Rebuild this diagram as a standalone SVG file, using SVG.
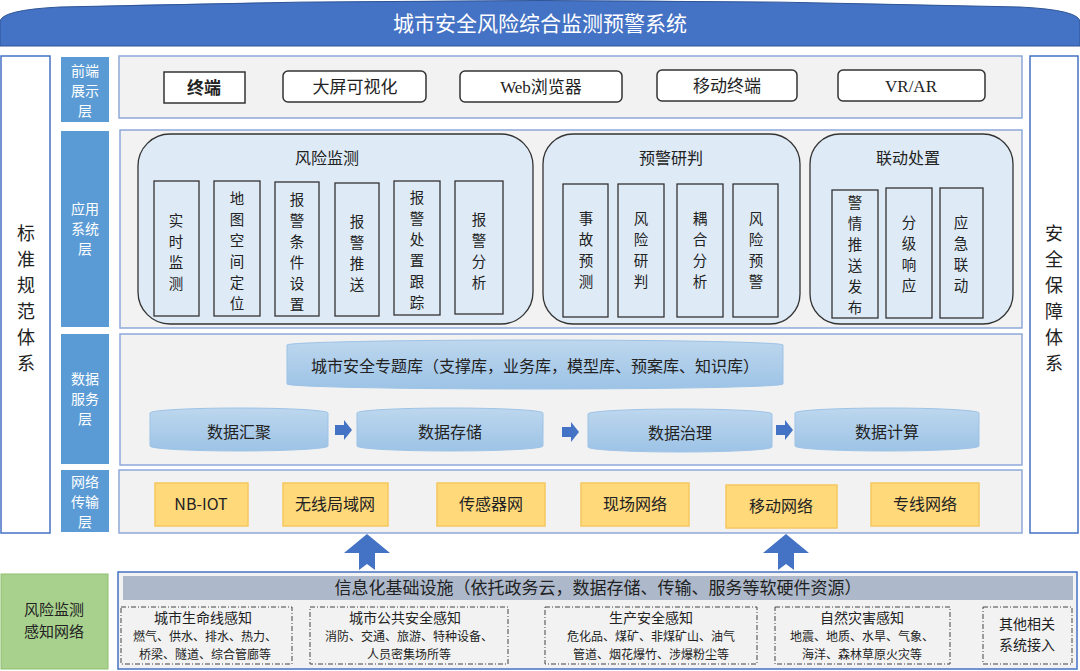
<svg xmlns="http://www.w3.org/2000/svg" width="1080" height="671" viewBox="0 0 1080 671">
<style>
text{font-family:"Noto Sans CJK SC","Liberation Sans",sans-serif;fill:#222}
.lbl{fill:#5B9BD5}
.lt{fill:#fff;font-size:14px;text-anchor:middle}
.pan{fill:#F2F2F2;stroke:#8EA9DB;stroke-width:1.5}
.fb{fill:#fff;stroke:#333;stroke-width:1.5}
.ft{font-size:17px;text-anchor:middle}
.grp{fill:#DEEBF7;stroke:#333;stroke-width:1.3}
.it{fill:#DEEBF7;stroke:#333;stroke-width:1.3}
.vt{font-size:14.5px;text-anchor:middle}
.cyl{fill:url(#cg);stroke:#9DC3E6}
.ct{font-size:16px;text-anchor:middle}
.nb{fill:#FFD97A;stroke:#F6C85F;stroke-width:1.5}
.nt{font-size:16px;text-anchor:middle}
.db{fill:none;stroke:#444;stroke-dasharray:5 2 1 2}
.dt{font-size:14px;text-anchor:middle}
.ds{font-size:12px;text-anchor:middle}
.big{font-size:18px;text-anchor:middle}
</style>
<defs>
<linearGradient id="cg" x1="0" y1="0" x2="0" y2="1"><stop offset="0" stop-color="#BDD7EE"/><stop offset="1" stop-color="#9DC3E6"/></linearGradient>
</defs>
<g id="title"><path d="M0,46 L0,22 Q0,10 60,7 Q540,-6 1020,7 Q1080,10 1080,22 L1080,46 Z" fill="#4472C4" stroke="#2F5597"/><text x="540" y="31" style="font-size:21px;fill:#fff;text-anchor:middle">城市安全风险综合监测预警系统</text></g>
<g id="left"><rect x="1" y="56" width="49" height="477" fill="#fff" stroke="#4472C4" stroke-width="1.5"/><text class="big"><tspan x="26" y="240">标</tspan><tspan x="26" y="266">准</tspan><tspan x="26" y="292">规</tspan><tspan x="26" y="318">范</tspan><tspan x="26" y="344">体</tspan><tspan x="26" y="370">系</tspan></text></g>
<g id="right"><rect x="1030" y="56" width="48" height="477" fill="#fff" stroke="#4472C4" stroke-width="1.5"/><text class="big"><tspan x="1054" y="240">安</tspan><tspan x="1054" y="266">全</tspan><tspan x="1054" y="292">保</tspan><tspan x="1054" y="318">障</tspan><tspan x="1054" y="344">体</tspan><tspan x="1054" y="370">系</tspan></text></g>
<g id="labels">
<rect class="lbl" x="61" y="57" width="48" height="65"/><text class="lt"><tspan x="85" y="76">前端</tspan><tspan x="85" y="96">展示</tspan><tspan x="85" y="116">层</tspan></text>
<rect class="lbl" x="61" y="131" width="48" height="196"/><text class="lt"><tspan x="85" y="214">应用</tspan><tspan x="85" y="234">系统</tspan><tspan x="85" y="254">层</tspan></text>
<rect class="lbl" x="61" y="334" width="48" height="130"/><text class="lt"><tspan x="85" y="384">数据</tspan><tspan x="85" y="404">服务</tspan><tspan x="85" y="424">层</tspan></text>
<rect class="lbl" x="61" y="470" width="48" height="62"/><text class="lt"><tspan x="85" y="487">网络</tspan><tspan x="85" y="507">传输</tspan><tspan x="85" y="527">层</tspan></text>
</g>
<g id="front">
<rect class="pan" x="119" y="56" width="903" height="62"/>
<rect class="fb" x="164" y="72" width="81" height="31"/><text class="ft" x="204" y="94" style="font-weight:bold">终端</text>
<rect class="fb" x="283" y="71" width="143" height="31" rx="5"/><text class="ft" x="355" y="93">大屏可视化</text>
<rect class="fb" x="460" y="71" width="162" height="31" rx="5"/><text class="ft" x="541" y="93" style="font-family:'Liberation Serif','Noto Sans CJK SC',serif">Web浏览器</text>
<rect class="fb" x="657" y="70" width="140" height="31" rx="5"/><text class="ft" x="727" y="92">移动终端</text>
<rect class="fb" x="838" y="70" width="147" height="31" rx="5"/><text class="ft" x="911" y="92" style="font-family:'Liberation Serif',serif">VR/AR</text>
</g>
<g id="app">
<rect class="pan" x="120" y="130" width="902" height="198"/>
<rect class="grp" x="138" y="134" width="395" height="190" rx="32"/><text class="ft" x="327" y="164" style="font-size:16px">风险监测</text>
<rect class="it" x="154" y="181" width="45" height="135"/><text class="vt"><tspan x="176" y="226">实</tspan><tspan x="176" y="247">时</tspan><tspan x="176" y="268">监</tspan><tspan x="176" y="289">测</tspan></text>
<rect class="it" x="214" y="181" width="46" height="135"/><text class="vt"><tspan x="237" y="204">地</tspan><tspan x="237" y="225">图</tspan><tspan x="237" y="246">空</tspan><tspan x="237" y="267">间</tspan><tspan x="237" y="288">定</tspan><tspan x="237" y="309">位</tspan></text>
<rect class="it" x="275" y="182" width="44" height="134"/><text class="vt"><tspan x="297" y="205">报</tspan><tspan x="297" y="226">警</tspan><tspan x="297" y="247">条</tspan><tspan x="297" y="268">件</tspan><tspan x="297" y="289">设</tspan><tspan x="297" y="310">置</tspan></text>
<rect class="it" x="335" y="183" width="44" height="133"/><text class="vt"><tspan x="357" y="227">报</tspan><tspan x="357" y="248">警</tspan><tspan x="357" y="269">推</tspan><tspan x="357" y="290">送</tspan></text>
<rect class="it" x="394" y="181" width="46" height="134"/><text class="vt"><tspan x="417" y="203">报</tspan><tspan x="417" y="224">警</tspan><tspan x="417" y="245">处</tspan><tspan x="417" y="266">置</tspan><tspan x="417" y="287">跟</tspan><tspan x="417" y="308">踪</tspan></text>
<rect class="it" x="455" y="181" width="48" height="133"/><text class="vt"><tspan x="479" y="225">报</tspan><tspan x="479" y="246">警</tspan><tspan x="479" y="267">分</tspan><tspan x="479" y="288">析</tspan></text>
<rect class="grp" x="543" y="134" width="257" height="190" rx="30"/><text class="ft" x="671" y="164" style="font-size:16px">预警研判</text>
<rect class="it" x="563" y="184" width="45" height="133"/><text class="vt"><tspan x="586" y="224">事</tspan><tspan x="586" y="245">故</tspan><tspan x="586" y="266">预</tspan><tspan x="586" y="287">测</tspan></text>
<rect class="it" x="618" y="184" width="46" height="133"/><text class="vt"><tspan x="641" y="224">风</tspan><tspan x="641" y="245">险</tspan><tspan x="641" y="266">研</tspan><tspan x="641" y="287">判</tspan></text>
<rect class="it" x="677" y="184" width="46" height="133"/><text class="vt"><tspan x="700" y="224">耦</tspan><tspan x="700" y="245">合</tspan><tspan x="700" y="266">分</tspan><tspan x="700" y="287">析</tspan></text>
<rect class="it" x="733" y="184" width="45" height="133"/><text class="vt"><tspan x="756" y="224">风</tspan><tspan x="756" y="245">险</tspan><tspan x="756" y="266">预</tspan><tspan x="756" y="287">警</tspan></text>
<rect class="grp" x="810" y="134" width="203" height="190" rx="30"/><text class="ft" x="908" y="164" style="font-size:16px">联动处置</text>
<rect class="it" x="832" y="190" width="46" height="128"/><text class="vt"><tspan x="855" y="208">警</tspan><tspan x="855" y="229">情</tspan><tspan x="855" y="250">推</tspan><tspan x="855" y="271">送</tspan><tspan x="855" y="292">发</tspan><tspan x="855" y="313">布</tspan></text>
<rect class="it" x="886" y="188" width="46" height="130"/><text class="vt"><tspan x="909" y="228">分</tspan><tspan x="909" y="249">级</tspan><tspan x="909" y="270">响</tspan><tspan x="909" y="291">应</tspan></text>
<rect class="it" x="940" y="188" width="43" height="130"/><text class="vt"><tspan x="961" y="228">应</tspan><tspan x="961" y="249">急</tspan><tspan x="961" y="270">联</tspan><tspan x="961" y="291">动</tspan></text>
</g>
<g id="data">
<rect class="pan" x="120" y="334" width="902" height="131"/>
<path class="cyl" d="M287,345 A248,5 0 0 1 783,345 L783,384 A248,5 0 0 1 287,384 Z"/><text class="ct" x="535" y="372">城市安全专题库（支撑库，业务库，模型库、预案库、知识库）</text>
<path class="cyl" d="M150,413 A89,5 0 0 1 328,413 L328,446 A89,5 0 0 1 150,446 Z"/><text class="ct" x="239" y="438">数据汇聚</text>
<path class="cyl" d="M357,413 A93,5 0 0 1 543,413 L543,446 A93,5 0 0 1 357,446 Z"/><text class="ct" x="450" y="438">数据存储</text>
<path class="cyl" d="M588,414 A92,5 0 0 1 772,414 L772,447 A92,5 0 0 1 588,447 Z"/><text class="ct" x="680" y="439">数据治理</text>
<path class="cyl" d="M795,413 A92,5 0 0 1 979,413 L979,446 A92,5 0 0 1 795,446 Z"/><text class="ct" x="887" y="438">数据计算</text>
</g>
<g id="connectors" fill="#4472C4">
<polygon points="335,425 344,425 344,420 352,430 344,440 344,435 335,435"/>
<polygon points="562,427 571,427 571,422 579,432 571,442 571,437 562,437"/>
<polygon points="776,425 785,425 785,420 793,430 785,440 785,435 776,435"/>
<polygon points="367,534 390,553 375,553 375,570 367,564 359,570 359,553 344,553"/>
<polygon points="786,534 809,553 794,553 794,570 786,564 778,570 778,553 763,553"/>
</g>
<g id="net">
<rect class="pan" x="119" y="470" width="903" height="63"/>
<rect class="nb" x="155" y="483" width="93" height="43"/><text class="nt" x="201" y="510">NB-IOT</text>
<rect class="nb" x="283" y="483" width="105" height="43"/><text class="nt" x="335" y="510">无线局域网</text>
<rect class="nb" x="437" y="483" width="108" height="43"/><text class="nt" x="491" y="510">传感器网</text>
<rect class="nb" x="581" y="483" width="108" height="43"/><text class="nt" x="635" y="510">现场网络</text>
<rect class="nb" x="726" y="485" width="111" height="43"/><text class="nt" x="781" y="512">移动网络</text>
<rect class="nb" x="871" y="483" width="108" height="43"/><text class="nt" x="925" y="510">专线网络</text>
</g>
<g id="sense">
<rect x="1" y="574" width="107" height="95" fill="#A9D18E" stroke="#8FBF6E"/><text class="nt" style="font-size:15px"><tspan x="54" y="615">风险监测</tspan><tspan x="54" y="637">感知网络</tspan></text>
<rect x="118" y="572" width="959" height="97" fill="#F2F2F2" stroke="#4472C4" stroke-width="1.5"/>
<rect x="123" y="576" width="950" height="24" fill="#ADB9CA"/><text x="598" y="594" style="font-size:17px;text-anchor:middle">信息化基础设施（依托政务云，数据存储、传输、服务等软硬件资源）</text>
<rect class="db" x="121" y="607" width="171" height="57"/><text class="dt" x="203" y="623">城市生命线感知</text><text class="ds"><tspan x="205" y="641">燃气、供水、排水、热力、</tspan><tspan x="205" y="659">桥梁、隧道、综合管廊等</tspan></text>
<rect class="db" x="310" y="607" width="198" height="57"/><text class="dt" x="405" y="623">城市公共安全感知</text><text class="ds"><tspan x="409" y="641">消防、交通、旅游、特种设备、</tspan><tspan x="409" y="659">人员密集场所等</tspan></text>
<rect class="db" x="545" y="607" width="212" height="57"/><text class="dt" x="651" y="623">生产安全感知</text><text class="ds"><tspan x="651" y="641">危化品、煤矿、非煤矿山、油气</tspan><tspan x="651" y="659">管道、烟花爆竹、涉爆粉尘等</tspan></text>
<rect class="db" x="775" y="607" width="175" height="57"/><text class="dt" x="862" y="623">自然灾害感知</text><text class="ds"><tspan x="862" y="641">地震、地质、水旱、气象、</tspan><tspan x="862" y="659">海洋、森林草原火灾等</tspan></text>
<rect class="db" x="983" y="607" width="89" height="57"/><text class="dt"><tspan x="1027" y="629">其他相关</tspan><tspan x="1027" y="650">系统接入</tspan></text>
</g>
</svg>
